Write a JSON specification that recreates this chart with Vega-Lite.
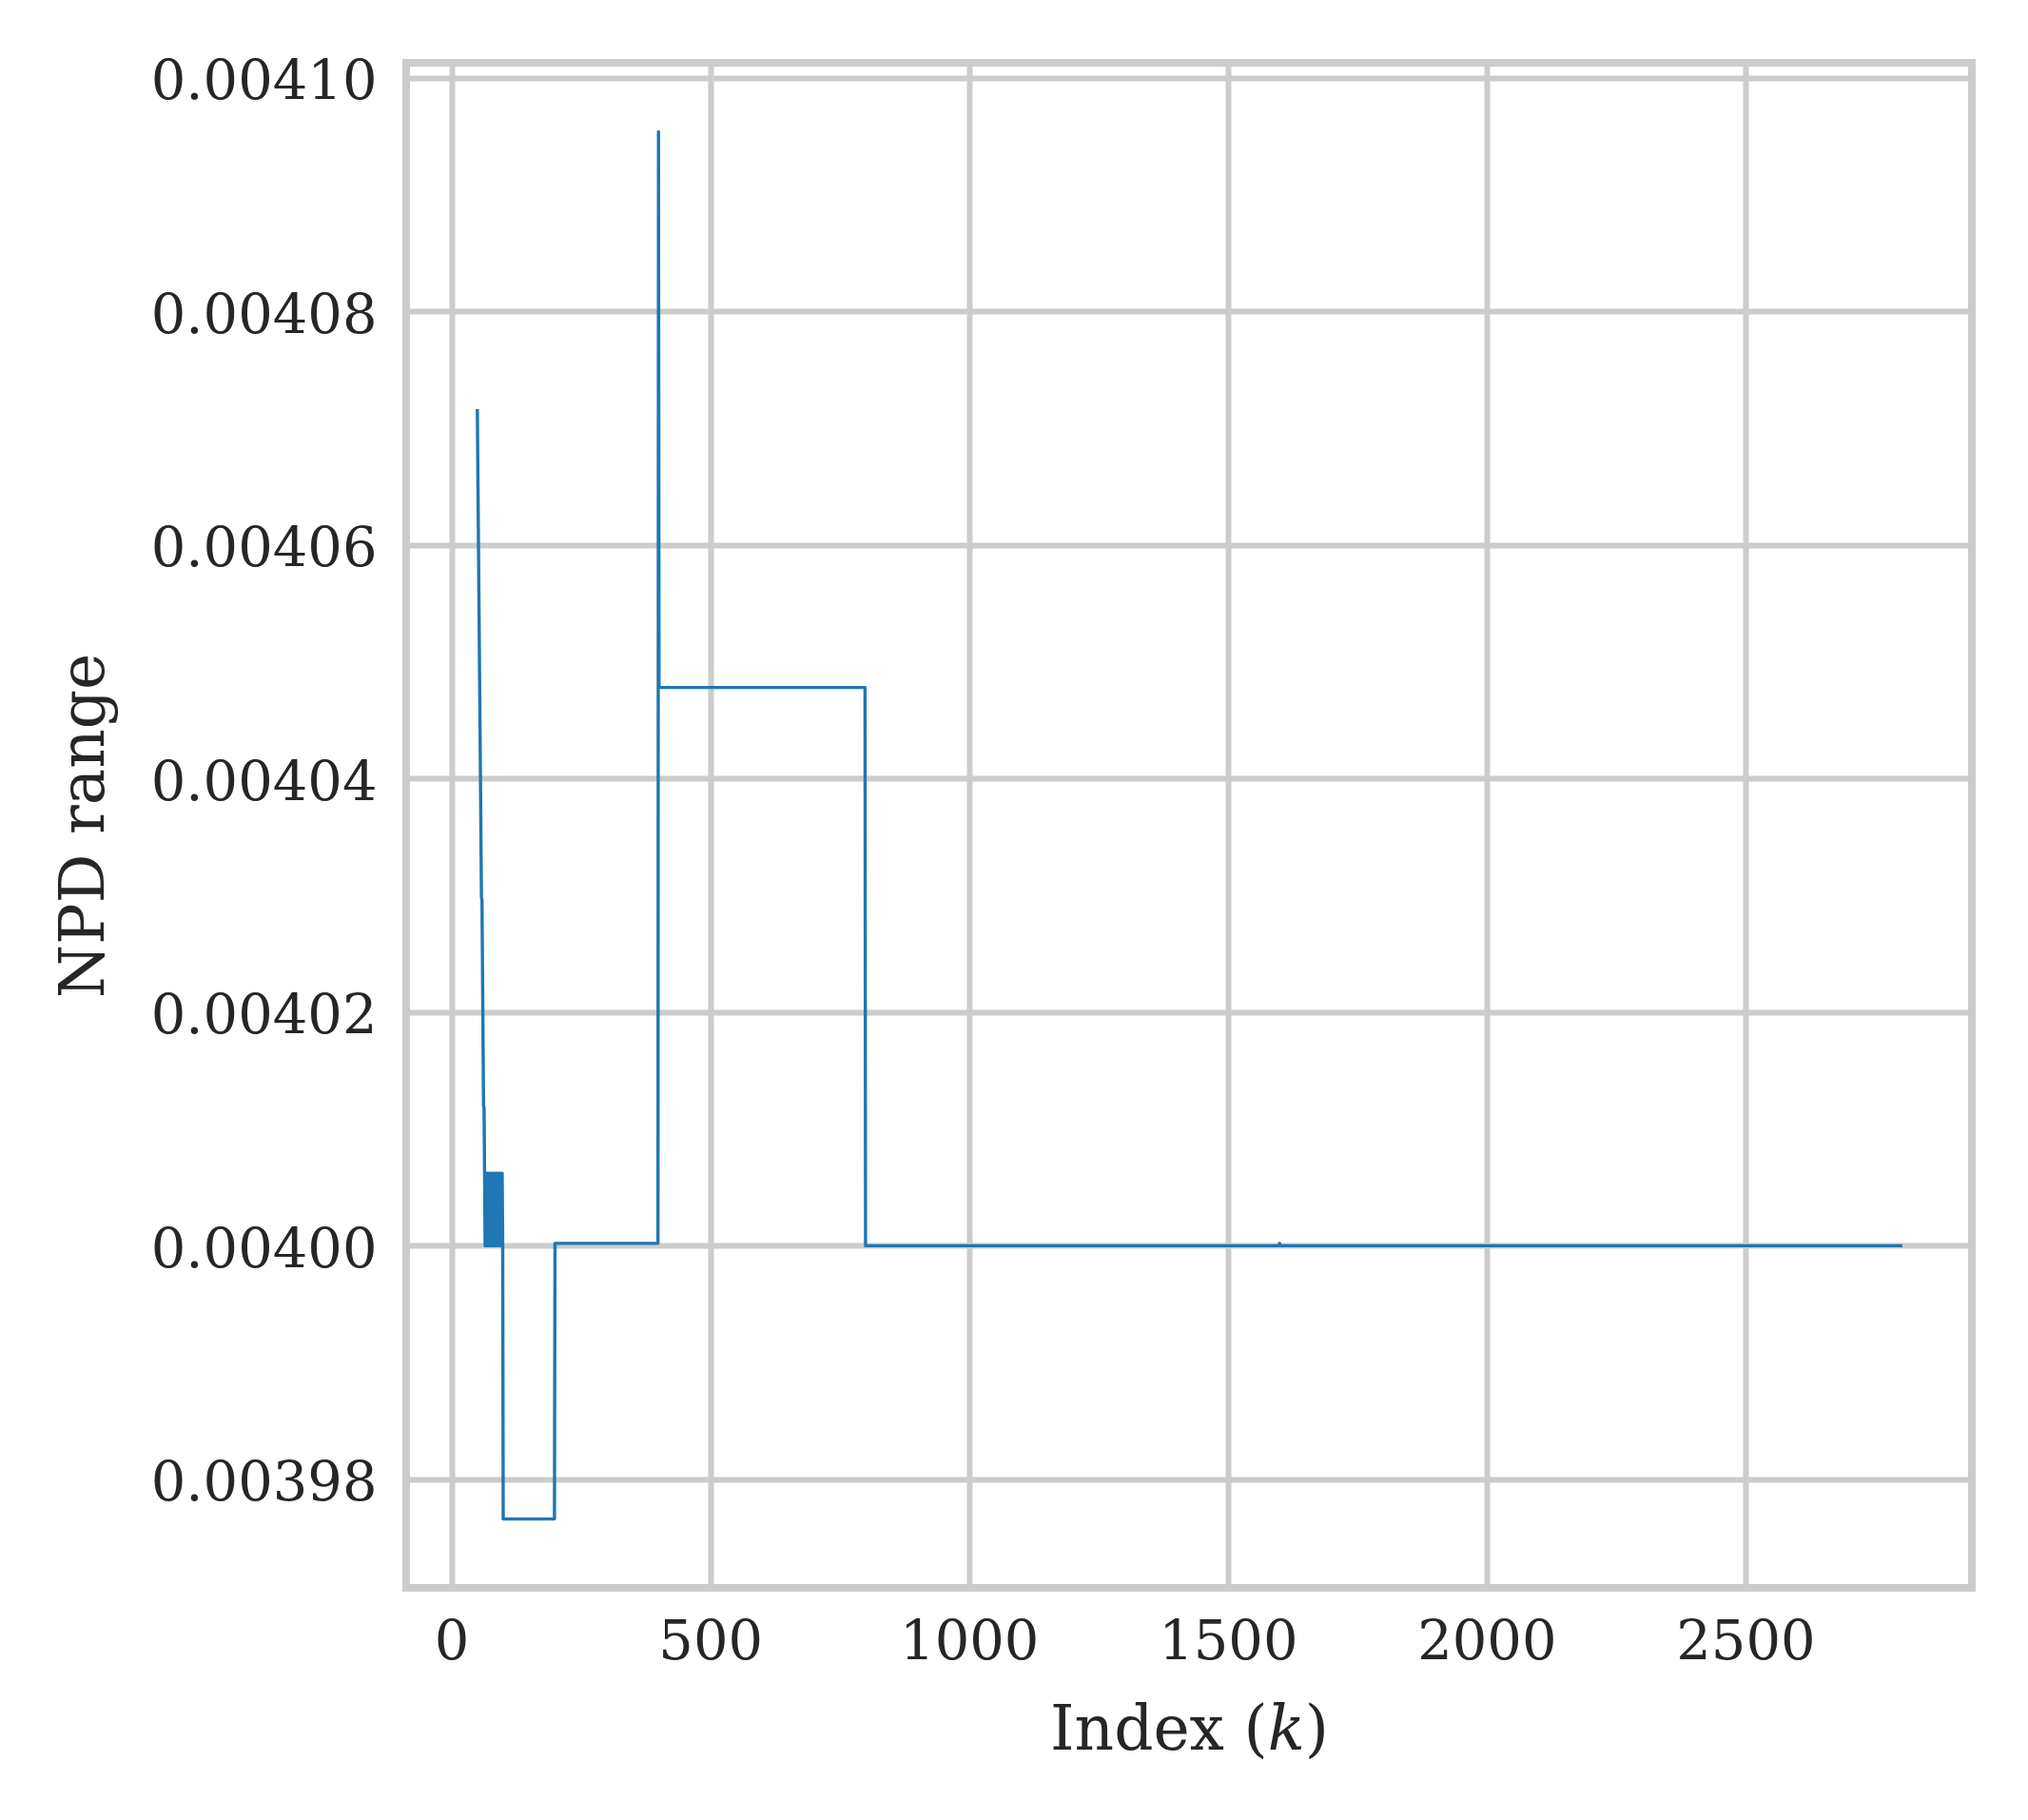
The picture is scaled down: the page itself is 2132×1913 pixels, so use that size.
{
  "$schema": "https://vega.github.io/schema/vega-lite/v6.json",
  "width": 1646,
  "height": 1603,
  "autosize": "none",
  "padding": {"left": 427, "top": 66, "right": 59, "bottom": 244},
  "background": "white",
  "config": {
    "view": {"stroke": "#cccccc", "strokeWidth": 8},
    "axis": {
      "domain": false,
      "ticks": false,
      "tickSize": 0,
      "grid": true,
      "gridColor": "#cccccc",
      "gridWidth": 6,
      "labelFont": "DejaVu Serif",
      "labelFontSize": 57.5,
      "labelColor": "#262626",
      "labelLimit": 0,
      "titleFont": "DejaVu Serif",
      "titleFontSize": 64.5,
      "titleFontWeight": "normal",
      "titleColor": "#262626",
      "titleLimit": 0
    }
  },
  "data": {
    "values": [
      {"k": 50, "v": 0.0040715},
      {"k": 58, "v": 0.0040298},
      {"k": 59, "v": 0.0040296},
      {"k": 62, "v": 0.004012},
      {"k": 63, "v": 0.0040118},
      {"k": 64, "v": 0.0040062},
      {"k": 65, "v": 0.004},
      {"k": 66, "v": 0.0040062},
      {"k": 67, "v": 0.004},
      {"k": 68, "v": 0.0040062},
      {"k": 69, "v": 0.004},
      {"k": 70, "v": 0.0040062},
      {"k": 71, "v": 0.004},
      {"k": 72, "v": 0.0040062},
      {"k": 73, "v": 0.004},
      {"k": 74, "v": 0.0040062},
      {"k": 75, "v": 0.004},
      {"k": 76, "v": 0.0040062},
      {"k": 77, "v": 0.004},
      {"k": 78, "v": 0.0040062},
      {"k": 79, "v": 0.004},
      {"k": 80, "v": 0.0040062},
      {"k": 81, "v": 0.004},
      {"k": 82, "v": 0.0040062},
      {"k": 83, "v": 0.004},
      {"k": 84, "v": 0.0040062},
      {"k": 85, "v": 0.004},
      {"k": 86, "v": 0.0040062},
      {"k": 87, "v": 0.004},
      {"k": 88, "v": 0.0040062},
      {"k": 89, "v": 0.004},
      {"k": 90, "v": 0.0040062},
      {"k": 91, "v": 0.004},
      {"k": 92, "v": 0.0040062},
      {"k": 93, "v": 0.004},
      {"k": 94, "v": 0.0040062},
      {"k": 95, "v": 0.004},
      {"k": 96, "v": 0.0040062},
      {"k": 97, "v": 0.004},
      {"k": 98, "v": 0.0040062},
      {"k": 99, "v": 0.004},
      {"k": 100, "v": 0.0039766},
      {"k": 199, "v": 0.0039766},
      {"k": 200, "v": 0.0040002},
      {"k": 399, "v": 0.0040002},
      {"k": 400, "v": 0.0040954},
      {"k": 401, "v": 0.0040478},
      {"k": 799, "v": 0.0040478},
      {"k": 800, "v": 0.004},
      {"k": 1599, "v": 0.004},
      {"k": 1600, "v": 0.0040002},
      {"k": 1601, "v": 0.004},
      {"k": 2800, "v": 0.004}
    ]
  },
  "mark": {"type": "line", "color": "#1f77b4", "strokeWidth": 3.4, "strokeJoin": "round", "strokeCap": "square"},
  "encoding": {
    "x": {
      "field": "k",
      "type": "quantitative",
      "scale": {"domain": [-87.5, 2937.5], "nice": false, "zero": false},
      "axis": {
        "title": "Index (𝑘)",
        "values": [0, 500, 1000, 1500, 2000, 2500],
        "format": "d",
        "labelBaseline": "alphabetic",
        "labelPadding": 74,
        "titleBaseline": "alphabetic",
        "titleY": 169
      }
    },
    "y": {
      "field": "v",
      "type": "quantitative",
      "scale": {"domain": [0.0039707, 0.0041013], "nice": false, "zero": false},
      "axis": {
        "title": "NPD range",
        "values": [0.00398, 0.004, 0.00402, 0.00404, 0.00406, 0.00408, 0.0041],
        "format": ".5f",
        "labelBaseline": "alphabetic",
        "labelOffset": 22,
        "labelPadding": 31,
        "titleBaseline": "alphabetic",
        "titleX": -319
      }
    }
  }
}
